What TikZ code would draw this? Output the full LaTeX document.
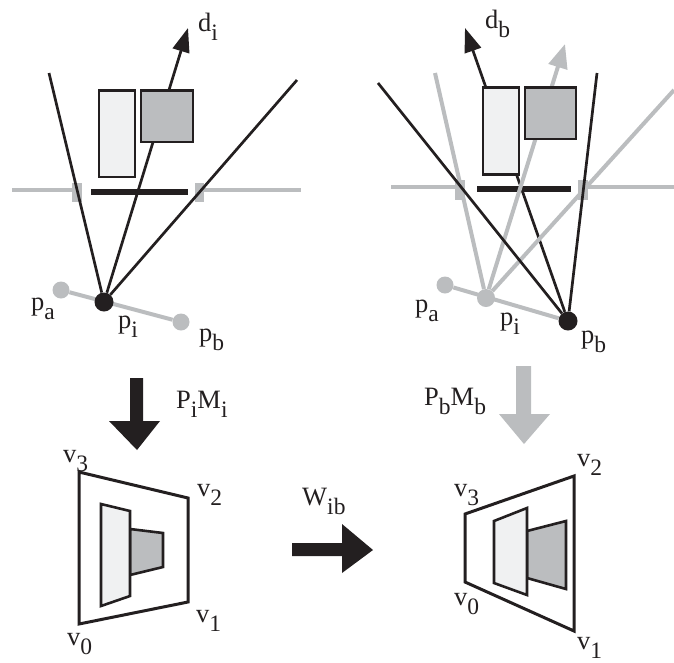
\documentclass[tikz,border=0pt]{standalone}
\usepackage{fontspec}
\setmainfont{Liberation Serif}
\usetikzlibrary{arrows.meta}

\definecolor{inkblack}{HTML}{231F20}
\definecolor{midgray}{HTML}{BBBDBF}
\definecolor{palegray}{HTML}{F0F1F2}

% subscript that hangs low, as in the printed figure
\newcommand{\lowsub}[1]{\raisebox{-0.34em}{\fontsize{23.5}{26}\selectfont #1}}

\tikzset{
	lbl/.style={anchor=base west, inner sep=0pt, text=inkblack, font=\fontsize{26.5}{30}\selectfont},
	blackdot/.style={circle, fill=inkblack, inner sep=0pt, minimum size=19pt},
	graydot/.style={circle, fill=midgray, inner sep=0pt, minimum size=17pt},
	ray/.style={draw=inkblack, line width=2.7pt},
	grayray/.style={draw=midgray, line width=4pt},
	dirarrow/.style={ray, -{Triangle[length=24pt,width=17pt]}},
	grayarrow/.style={grayray, -{Triangle[length=24pt,width=19pt]}},
	plane/.style={draw=midgray, line width=3.5pt},
	bar/.style={draw=inkblack, line width=5.5pt},
	tick/.style={fill=midgray},
	box/.style={draw=inkblack, line width=2.6pt, line join=miter},
	frontbox/.style={box, fill=palegray},
	backbox/.style={box, fill=midgray},
	quadframe/.style={box, line width=3pt}
}

\begin{document}
\begin{tikzpicture}[x=1pt, y=-1pt]
	\useasboundingbox (0, 0) rectangle (674, 662);

	% left view
	\fill [tick] (72, 183) rectangle (82, 202);
	\fill [tick] (195, 183) rectangle (204, 202);
	\coordinate (la) at (12, 190);
	\coordinate (lb) at (75, 190);
	\coordinate (lc) at (200, 190);
	\coordinate (ld) at (301, 190);
	\draw [plane] (la) -- (lb);
	\draw [plane] (lc) -- (ld);
	\coordinate (lbara) at (91, 192);
	\coordinate (lbarb) at (188, 192);
	\node [graydot] (pa1) at (61, 290) {};
	\node [graydot] (pb1) at (181, 322) {};
	\draw [grayray] (pa1) -- (pb1);
	\node [blackdot] (pi1) at (104, 302) {};
	\coordinate (di) at (188, 28);
	\coordinate (ray1a) at (49, 73);
	\coordinate (ray1b) at (297, 80);
	\draw [dirarrow] (pi1) -- (di);
	\draw [bar] (lbara) -- (lbarb);
	\draw [ray] (pi1) -- (ray1a);
	\draw [ray] (pi1) -- (ray1b);
	\draw [frontbox] (99, 90.5) rectangle (135, 177);
	\draw [backbox] (141, 90.5) rectangle (193, 142);
	\node [lbl] (ldi) at (198, 31) {d\lowsub{i}};
	\node [lbl] (lpa) at (31, 310) {p\lowsub{a}};
	\node [lbl] (lpi) at (118, 328) {p\lowsub{i}};
	\node [lbl] (lpb) at (199, 341) {p\lowsub{b}};

	% right view
	\fill [tick] (455, 180) rectangle (465, 200);
	\fill [tick] (578, 180) rectangle (588, 200);
	\coordinate (ra) at (391, 187);
	\coordinate (rb) at (458, 187);
	\coordinate (rc) at (585, 187);
	\coordinate (rd) at (674, 187);
	\draw [plane] (ra) -- (rb);
	\draw [plane] (rc) -- (rd);
	\node [graydot] (pa2) at (445, 285) {};
	\node [graydot, minimum size=18pt] (pi2) at (486, 298) {};
	\node [blackdot] (pb2) at (568, 321) {};
	\draw [grayray] (pa2) -- (pb2);
	\coordinate (db) at (465, 28);
	\coordinate (ray2a) at (378, 83);
	\coordinate (ray2b) at (597, 73);
	\coordinate (ray3a) at (435, 73);
	\coordinate (ray3b) at (674, 90);
	\coordinate (dgray) at (565, 44);
	\coordinate (rbara) at (477, 189);
	\coordinate (rbarb) at (571, 189);
	\draw [dirarrow] (pb2) -- (db);
	\draw [bar] (rbara) -- (rbarb);
	\draw [grayray] (pi2) -- (ray3a);
	\draw [grayray] (pi2) -- (ray3b);
	\draw [grayarrow] (pi2) -- (dgray);
	\draw [ray] (pb2) -- (ray2a);
	\draw [ray] (pb2) -- (ray2b);
	\draw [frontbox] (483, 87.5) rectangle (519, 174.5);
	\draw [backbox] (525, 87.5) rectangle (576, 139);
	\node [lbl] (ldb) at (485, 28) {d\lowsub{b}};
	\node [lbl] (rpa) at (415, 312) {p\lowsub{a}};
	\node [lbl] (rpi) at (500, 325) {p\lowsub{i}};
	\node [lbl] (rpb) at (581, 343) {p\lowsub{b}};

	% projections and warp
	\fill [inkblack] (130, 378) -- (143, 378) -- (143, 421) -- (160, 421) -- (137, 450) -- (109, 421) -- (130, 421) -- cycle;
	\fill [midgray] (516, 366) -- (531, 366) -- (531, 414) -- (550, 414) -- (524, 444) -- (499, 414) -- (516, 414) -- cycle;
	\fill [inkblack] (292, 543) -- (342, 543) -- (342, 524) -- (373, 550) -- (342, 573) -- (342, 556) -- (292, 556) -- cycle;
	\node [lbl] (lpm) at (176, 408) {P\lowsub{i}M\lowsub{i}};
	\node [lbl] (rpm) at (424, 405) {P\lowsub{b}M\lowsub{b}};
	\node [lbl] (lw) at (302, 505) {W\lowsub{ib}};

	% left image
	\draw [quadframe] (79, 472) -- (188, 498) -- (188, 602) -- (79, 624) -- cycle;
	\draw [backbox] (130, 529) -- (163, 533) -- (163, 567) -- (130, 575) -- cycle;
	\draw [frontbox] (101, 504) -- (130, 511) -- (130, 596) -- (101, 606) -- cycle;
	\node [lbl] (lv3) at (63, 462) {v\lowsub{3}};
	\node [lbl] (lv2) at (197, 496) {v\lowsub{2}};
	\node [lbl] (lv1) at (196, 622) {v\lowsub{1}};
	\node [lbl] (lv0) at (67, 645) {v\lowsub{0}};

	% right image
	\draw [quadframe] (465, 514) -- (574, 476) -- (574, 631) -- (465, 582) -- cycle;
	\draw [backbox] (527, 531) -- (566, 521) -- (566, 589) -- (527, 578) -- cycle;
	\draw [frontbox] (494, 521) -- (527, 508) -- (527, 595) -- (494, 583) -- cycle;
	\node [lbl] (rv3) at (454, 496) {v\lowsub{3}};
	\node [lbl] (rv2) at (577, 466) {v\lowsub{2}};
	\node [lbl] (rv1) at (577, 649) {v\lowsub{1}};
	\node [lbl] (rv0) at (454, 605) {v\lowsub{0}};
\end{tikzpicture}
\end{document}
